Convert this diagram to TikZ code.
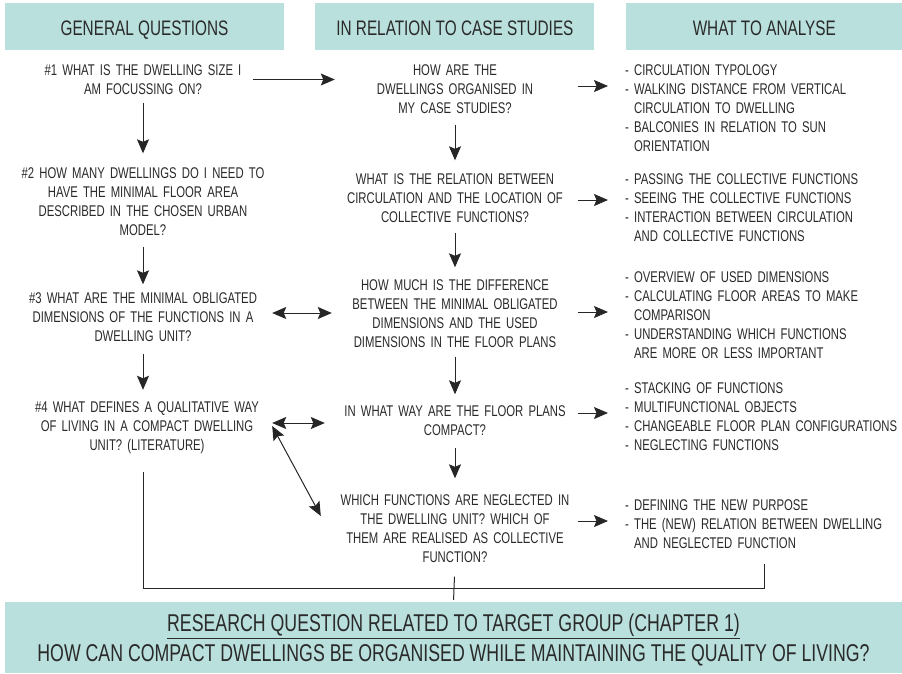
\documentclass[tikz,border=0pt]{standalone}
\usepackage{fontspec}
\setmainfont{Liberation Sans}[FakeStretch=0.73]
\usepackage{xcolor}
\usetikzlibrary{arrows.meta, positioning}
\definecolor{headteal}{RGB}{185,224,221}
\definecolor{inkgray}{RGB}{42,42,42}
\tikzset{
  head/.style={rectangle, fill=headteal, minimum height=47pt, minimum width=279pt,
               inner sep=0pt, text=inkgray, text height=17pt, text depth=0pt,
               font=\fontsize{21}{22}\selectfont},
  goalbox/.style={rectangle, fill=headteal, minimum height=71pt, minimum width=897pt,
                  inner sep=0pt, align=center, text=inkgray,
                  font=\fontsize{24.3}{30}\selectfont},
  quest/.style={inner sep=0pt, text width=258pt, align=center, text=inkgray,
                font=\fontsize{15.5}{19}\selectfont},
  casebox/.style={inner sep=0pt, text width=240pt, align=center, text=inkgray,
                  font=\fontsize{15.5}{19}\selectfont},
  listbox/.style={inner sep=0pt, text width=300pt, align=left, anchor=west,
                  text=inkgray, font=\fontsize{15.5}{19}\selectfont},
  arr/.style={-{Stealth[length=14pt, width=12pt, inset=2.5pt]}, line width=1pt,
              draw=black!85},
  dblarr/.style={{Stealth[length=14pt, width=12pt, inset=2.5pt]}-{Stealth[length=14pt, width=12pt, inset=2.5pt]},
                 line width=1pt, draw=black!85},
  joinline/.style={line width=1pt, draw=black!85},
}
\newcommand{\ind}{\phantom{- }}

\begin{document}
\begin{tikzpicture}[x=1pt, y=-1pt]
  \useasboundingbox (0,0) rectangle (902,673);

  % Column heads
  \node[head] (hgen) at (144.5,26.5) {GENERAL QUESTIONS};
  \node[head, right=31pt of hgen] (hcase) {IN RELATION TO CASE STUDIES};
  \node[head, right=31pt of hcase, minimum width=277pt] (hana) {WHAT TO ANALYSE};

  % General questions
  \node[quest] (q1) at (143,79.5) {\#1 WHAT IS THE DWELLING SIZE I\\AM FOCUSSING ON?};
  \node[quest] (q2) at (143,201.5) {\#2 HOW MANY DWELLINGS DO I NEED TO\\HAVE THE MINIMAL FLOOR AREA\\DESCRIBED IN THE CHOSEN URBAN\\MODEL?};
  \node[quest] (q3) at (143,317) {\#3 WHAT ARE THE MINIMAL OBLIGATED\\DIMENSIONS OF THE FUNCTIONS IN A\\DWELLING UNIT?};
  \node[quest] (q4) at (147,428) {\#4 WHAT DEFINES A QUALITATIVE WAY\\OF LIVING IN A COMPACT DWELLING\\UNIT? (LITERATURE)};

  % Case studies
  \node[casebox] (m1) at (455,89) {HOW ARE THE\\DWELLINGS ORGANISED IN\\MY CASE STUDIES?};
  \node[casebox] (m2) at (455,198) {WHAT IS THE RELATION BETWEEN\\CIRCULATION AND THE LOCATION OF\\COLLECTIVE FUNCTIONS?};
  \node[casebox] (m3) at (455,313.5) {HOW MUCH IS THE DIFFERENCE\\BETWEEN THE MINIMAL OBLIGATED\\DIMENSIONS AND THE USED\\DIMENSIONS IN THE FLOOR PLANS};
  \node[casebox] (m4) at (455,420.5) {IN WHAT WAY ARE THE FLOOR PLANS\\COMPACT?};
  \node[casebox] (m5) at (455,528.5) {WHICH FUNCTIONS ARE NEGLECTED IN\\THE DWELLING UNIT? WHICH OF\\THEM ARE REALISED AS COLLECTIVE\\FUNCTION?};

  % What to analyse
  \node[listbox] (r1) at (625,108) {- CIRCULATION TYPOLOGY\\- WALKING DISTANCE FROM VERTICAL\\\ind CIRCULATION TO DWELLING\\- BALCONIES IN RELATION TO SUN\\\ind ORIENTATION};
  \node[listbox] (r2) at (625,207.5) {- PASSING THE COLLECTIVE FUNCTIONS\\- SEEING THE COLLECTIVE FUNCTIONS\\- INTERACTION BETWEEN CIRCULATION\\\ind AND COLLECTIVE FUNCTIONS};
  \node[listbox] (r3) at (625,315) {- OVERVIEW OF USED DIMENSIONS\\- CALCULATING FLOOR AREAS TO MAKE\\\ind COMPARISON\\- UNDERSTANDING WHICH FUNCTIONS\\\ind ARE MORE OR LESS IMPORTANT};
  \node[listbox] (r4) at (625,416.5) {- STACKING OF FUNCTIONS\\- MULTIFUNCTIONAL OBJECTS\\- CHANGEABLE FLOOR PLAN CONFIGURATIONS\\- NEGLECTING FUNCTIONS};
  \node[listbox] (r5) at (625,524) {- DEFINING THE NEW PURPOSE\\- THE (NEW) RELATION BETWEEN DWELLING\\\ind AND NEGLECTED FUNCTION};

  % Research question
  \node[goalbox] (goal) at (453.5,637.5) {\rule{0pt}{23pt}\underline{RESEARCH QUESTION RELATED TO TARGET GROUP (CHAPTER 1)}\\HOW CAN COMPACT DWELLINGS BE ORGANISED WHILE MAINTAINING THE QUALITY OF LIVING?};

  \coordinate (jn) at (455,588);

  % Arrows down the columns
  \draw[arr, shorten <=8pt, shorten >=14pt] (q1.south) -- (q2.north);
  \draw[arr, shorten <=11pt, shorten >=8pt] (q2.south) -- (q3.north);
  \draw[arr, shorten <=12pt, shorten >=12pt] (q3.south) -- (q3.south |- q4.north);
  \draw[arr, shorten <=11pt, shorten >=13pt] (m1.south) -- (m2.north);
  \draw[arr, shorten <=10pt, shorten >=12pt] (m2.south) -- (m3.north);
  \draw[arr, shorten <=9pt, shorten >=11pt] (m3.south) -- (m4.north);
  \draw[arr, shorten <=12pt, shorten >=16pt] (m4.south) -- (m5.north);

  % Arrows across
  \draw[arr, shorten <=-19pt] (q1.east) -- (q1.east -| m1.west);
  \draw[dblarr, shorten >=3pt] ([yshift=4pt]q3.east) -- ([yshift=4pt]q3.east -| m3.west);
  \draw[dblarr, shorten >=10pt] ([xshift=-4pt, yshift=5pt]q4.east) -- ([yshift=5pt]q4.east -| m4.west);
  \draw[dblarr] ([xshift=-4pt, yshift=2pt]q4.east) -- ([xshift=-14pt, yshift=12.5pt]m5.west);
  \foreach \m/\r/\y in {m1/r1/86, m2/r2/200, m3/r3/312, m4/r4/413, m5/r5/521}
    \draw[arr, shorten <=3pt, shorten >=17pt] (\m.east |- 0,\y) -- (\r.west |- 0,\y);

  % Into the research question
  \draw[joinline, shorten <=18pt, shorten >=15pt] (q4.south -| q3.south) |- (jn) -| (r5.south -| hana.south);
  \draw[joinline, shorten <=14pt, shorten >=2pt] (m5.south) -- (goal.north);
\end{tikzpicture}
\end{document}
